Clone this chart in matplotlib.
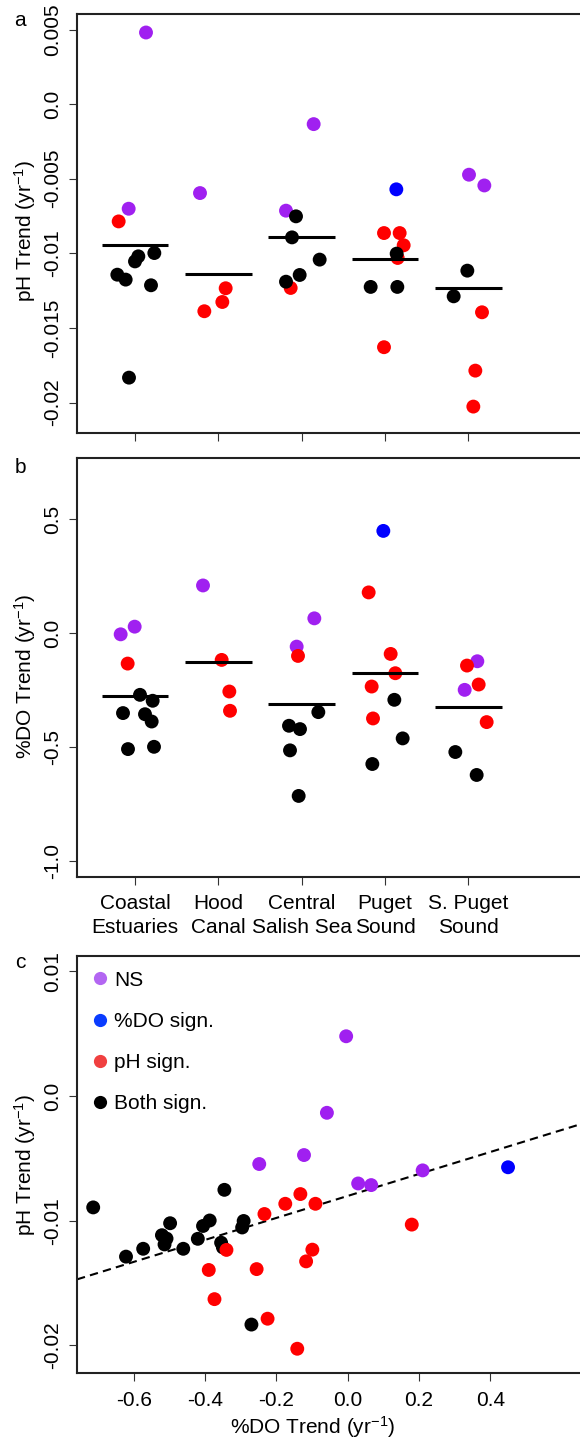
import numpy as np
import matplotlib
matplotlib.use("Agg")
import matplotlib.pyplot as plt
from matplotlib.lines import Line2D

plt.rcParams['font.family'] = ['Liberation Sans', 'DejaVu Sans']
plt.rcParams['mathtext.fontset'] = 'custom'
plt.rcParams['mathtext.rm'] = 'Liberation Sans'
plt.rcParams['mathtext.it'] = 'Liberation Sans:italic'
plt.rcParams['font.size'] = 15

# region names (tick labels of panels a/b)
regions = ["Coastal\nEstuaries", "Hood\nCanal", "Central\nSalish Sea", "Puget\nSound", "S. Puget\nSound"]

# one entry per site: region index (1-5), significance class, trends
site_region = [1]*10 + [2]*4 + [3]*8 + [4]*9 + [5]*7
site_class = (["NS", "NS", "pH"] + ["Both"]*7
              + ["NS", "pH", "pH", "pH"]
              + ["NS", "NS", "pH"] + ["Both"]*5
              + ["DO"] + ["pH"]*5 + ["Both"]*3
              + ["NS", "NS", "pH", "pH", "pH", "Both", "Both"])
ph_trend = [0.0048, -0.00701, -0.00786, -0.01833, -0.01054, -0.01214, -0.01176, -0.00998, -0.01143, -0.0102,
            -0.00596, -0.01326, -0.01388, -0.01234,
            -0.00134, -0.00714, -0.01232, -0.00893, -0.00752, -0.01042, -0.01145, -0.0119,
            -0.00571, -0.01031, -0.00864, -0.00864, -0.00946, -0.01629, -0.01002, -0.01225, -0.01225,
            -0.00473, -0.00545, -0.02027, -0.01786, -0.01395, -0.01116, -0.01288]
do_trend = [-0.0044, 0.0292, -0.1328, -0.270, -0.296, -0.350, -0.355, -0.387, -0.508, -0.498,
            0.210, -0.1167, -0.2554, -0.340,
            -0.0584, 0.0657, -0.0992, -0.7136, -0.3458, -0.4057, -0.4203, -0.5136,
            0.4494, 0.1795, -0.0905, -0.1751, -0.2335, -0.3736, -0.2918, -0.4611, -0.5735,
            -0.1226, -0.2481, -0.1415, -0.2247, -0.3896, -0.5209, -0.6216]
# horizontal jitter as seen in the strip charts
jitter_a = [0.132, -0.076, -0.196, -0.072, 0.0, 0.192, -0.112, 0.232, -0.212, 0.04,
            -0.22, 0.048, -0.168, 0.088,
            0.144, -0.188, -0.132, -0.116, -0.068, 0.216, -0.024, -0.188,
            0.136, 0.152, -0.012, 0.176, 0.224, -0.012, 0.14, 0.148, -0.172,
            0.008, 0.192, 0.06, 0.084, 0.164, -0.012, -0.176]
jitter_b = [-0.172, -0.004, -0.088, 0.06, 0.212, -0.144, 0.12, 0.2, -0.084, 0.228,
            -0.184, 0.04, 0.132, 0.14,
            -0.06, 0.152, -0.044, -0.036, 0.2, -0.152, -0.02, -0.14,
            -0.02, -0.196, 0.068, 0.124, -0.16, -0.144, 0.112, 0.212, -0.152,
            0.108, -0.044, -0.016, 0.124, 0.22, -0.156, 0.1]

# dashed fit line in panel c (slope / intercept)
fit_slope = 0.00882
fit_intercept = -0.00801

legend_labels = ["NS", "%DO sign.", "pH sign.", "Both sign."]
point_colors = {"NS": "#A020F0", "DO": "#0000FF", "pH": "#FF0000", "Both": "#000000"}
legend_colors = ["#B366F2", "#0A3CFF", "#F04040", "#000000"]

reg = np.array(site_region)
ph = np.array(ph_trend)
do = np.array(do_trend)
cols = [point_colors[c] for c in site_class]

W, H = 580, 1441
fig = plt.figure(figsize=(W/100, H/100), dpi=100)

def px_axes(left, top, bottom, width):
    return fig.add_axes([left/W, 1-bottom/H, width/W, (bottom-top)/H])

ax_a = px_axes(77, 14, 433, 533)
ax_b = px_axes(77, 458.3, 876.7, 533)
ax_c = px_axes(77, 956, 1373.3, 577.5)

def style(ax):
    for s in ax.spines.values():
        s.set_linewidth(1.5)
        s.set_color('#222222')
    ax.spines['right'].set_visible(False)
    ax.tick_params(length=5.5, width=0.8, color='#333333', pad=4, labelsize=15)
    ax.tick_params(axis='y', pad=5)

SZ = 100
# panel a
ax_a.scatter(reg + np.array(jitter_a), ph, s=SZ, c=cols, linewidths=0, zorder=2)
for g in range(1, 6):
    m = ph[reg == g].mean()
    ax_a.hlines(m, g-0.4, g+0.4, color='black', lw=2.2, zorder=3)
ax_a.set_xlim(0.304, 6.7)
ax_a.set_ylim(-0.02204, 0.00604)
ax_a.set_xticks(range(1, 6))
ax_a.set_xticklabels([])
ax_a.set_yticks([0.005, 0.0, -0.005, -0.01, -0.015, -0.02])
ax_a.set_yticklabels(["0.005", "0.0", "-0.005", "-0.01", "-0.015", "-0.02"])
ax_a.set_ylabel("pH Trend (yr$^{-1}$)", va='center')
ax_a.yaxis.set_label_coords(-52/533, 0.482)

# panel b
ax_b.scatter(reg + np.array(jitter_b), do, s=SZ, c=cols, linewidths=0, zorder=2)
for g in range(1, 6):
    m = do[reg == g].mean()
    ax_b.hlines(m, g-0.4, g+0.4, color='black', lw=2.2, zorder=3)
ax_b.set_xlim(0.304, 6.7)
ax_b.set_ylim(-1.068, 0.768)
ax_b.set_xticks(range(1, 6))
ax_b.set_xticklabels(regions, linespacing=1.36)
ax_b.set_yticks([0.5, 0.0, -0.5, -1.0])
ax_b.set_yticklabels(["0.5", "0.0", "-0.5", "-1.0"])
ax_b.set_ylabel("%DO Trend (yr$^{-1}$)", va='center')
ax_b.yaxis.set_label_coords(-52/533, 0.478)

# panel c
ax_c.scatter(do, ph, s=SZ, c=cols, linewidths=0, zorder=2)
ax_c.axline((0, fit_intercept), slope=fit_slope, color='black', lw=1.5,
            ls=(0, (4, 2.5)), zorder=1)
ax_c.set_xlim(-0.759, 0.86)
ax_c.set_ylim(-0.02224, 0.01124)
ax_c.set_xticks([-0.6, -0.4, -0.2, 0.0, 0.2, 0.4])
ax_c.set_xticklabels(["-0.6", "-0.4", "-0.2", "0.0", "0.2", "0.4"])
ax_c.set_yticks([0.01, 0.0, -0.01, -0.02])
ax_c.set_yticklabels(["0.01", "0.0", "-0.01", "-0.02"])
ax_c.set_ylabel("pH Trend (yr$^{-1}$)", va='center')
ax_c.yaxis.set_label_coords(-52/577.5, 0.5)
ax_c.set_xlabel("%DO Trend (yr$^{-1}$)", va='baseline')
ax_c.xaxis.set_label_coords(236/577.5, -61/417.3)

handles = [Line2D([], [], ls='', marker='o', markersize=9.5, markeredgewidth=0,
                  color=legend_colors[i]) for i in range(4)]
ax_c.legend(handles, legend_labels, loc='upper left', frameon=False, fontsize=15,
            handlelength=0.8, handletextpad=0.3, labelspacing=1.07,
            borderaxespad=0.3, borderpad=0.4)

for ax in (ax_a, ax_b, ax_c):
    style(ax)
    for lab in ax.get_yticklabels():
        lab.set_rotation(90)
        lab.set_va('center')
ax_b.tick_params(axis='x', pad=7)
ax_c.tick_params(axis='x', pad=7)

fig.text(20/W, 1-20.7/H, "a", ha='center', va='center', fontsize=15)
fig.text(20/W, 1-468/H, "b", ha='center', va='center', fontsize=15)
fig.text(20/W, 1-963/H, "c", ha='center', va='center', fontsize=15)

fig.savefig("out.png", dpi=100)
